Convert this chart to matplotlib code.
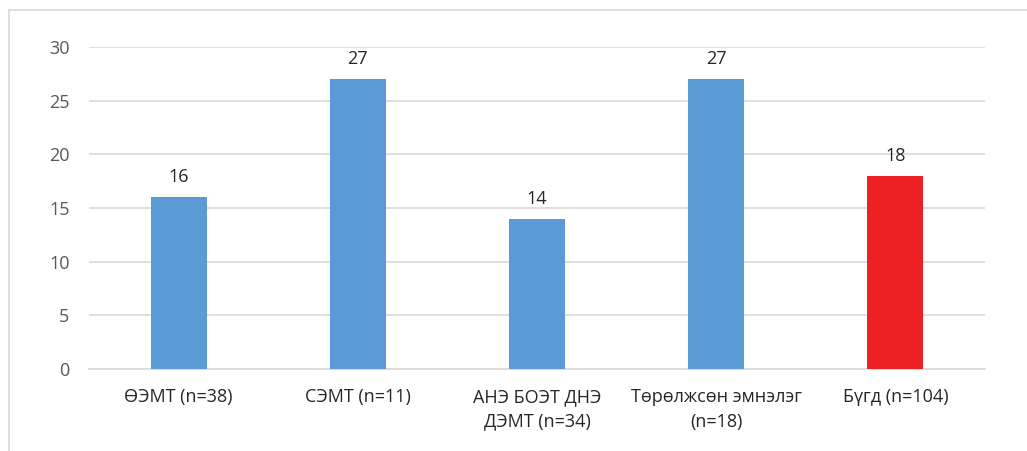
import matplotlib
matplotlib.use("Agg")
import matplotlib.pyplot as plt
from matplotlib.patches import Rectangle

categories = ["ӨЭМТ (n=38)", "СЭМТ (n=11)", "АНЭ БОЭТ ДНЭ\nДЭМТ (n=34)", "Төрөлжсөн эмнэлэг\n(n=18)", "Бүгд (n=104)"]
values = [16, 27, 14, 27, 18]
colors = ["#5B9BD5", "#5B9BD5", "#5B9BD5", "#5B9BD5", "#ED2024"]
yticks = [0, 5, 10, 15, 20, 25, 30]

plt.rcParams['font.family'] = ['Open Sans', 'DejaVu Sans']

W, H = 1027, 451
fig = plt.figure(figsize=(W/100, H/100), dpi=100)
fig.patches.append(Rectangle((9/W, -0.1), 1.2, 1 - 10/H + 0.1, transform=fig.transFigure,
                             fill=False, edgecolor="#D9D9D9", linewidth=1.2))
ax = fig.add_axes([89/W, 1 - 369/H, (985-89)/W, (369-47)/H])

x = list(range(len(categories)))
bars = ax.bar(x, values, width=0.3125, color=colors, zorder=3)
for xi, v in zip(x, values):
    ax.annotate(str(v), (xi, v), xytext=(0, 8), textcoords="offset points",
                ha="center", va="bottom", fontsize=13, color="#262626")

ax.set_xlim(-0.5, len(categories) - 0.5)
ax.set_ylim(0, 30)
ax.set_yticks(yticks)
ax.set_xticks(x)
ax.set_xticklabels(categories, fontsize=13, color="#262626", linespacing=1.45)
ax.tick_params(axis="y", labelsize=13, labelcolor="#595959", length=0, pad=14)
ax.tick_params(axis="x", length=0, pad=14)
ax.grid(axis="y", color="#D9D9D9", linewidth=1.2, zorder=0)
for s in ["top", "right", "left"]:
    ax.spines[s].set_visible(False)
ax.spines["bottom"].set_color("#D9D9D9")
ax.spines["bottom"].set_linewidth(1.2)

fig.savefig("out.png", dpi=100)
